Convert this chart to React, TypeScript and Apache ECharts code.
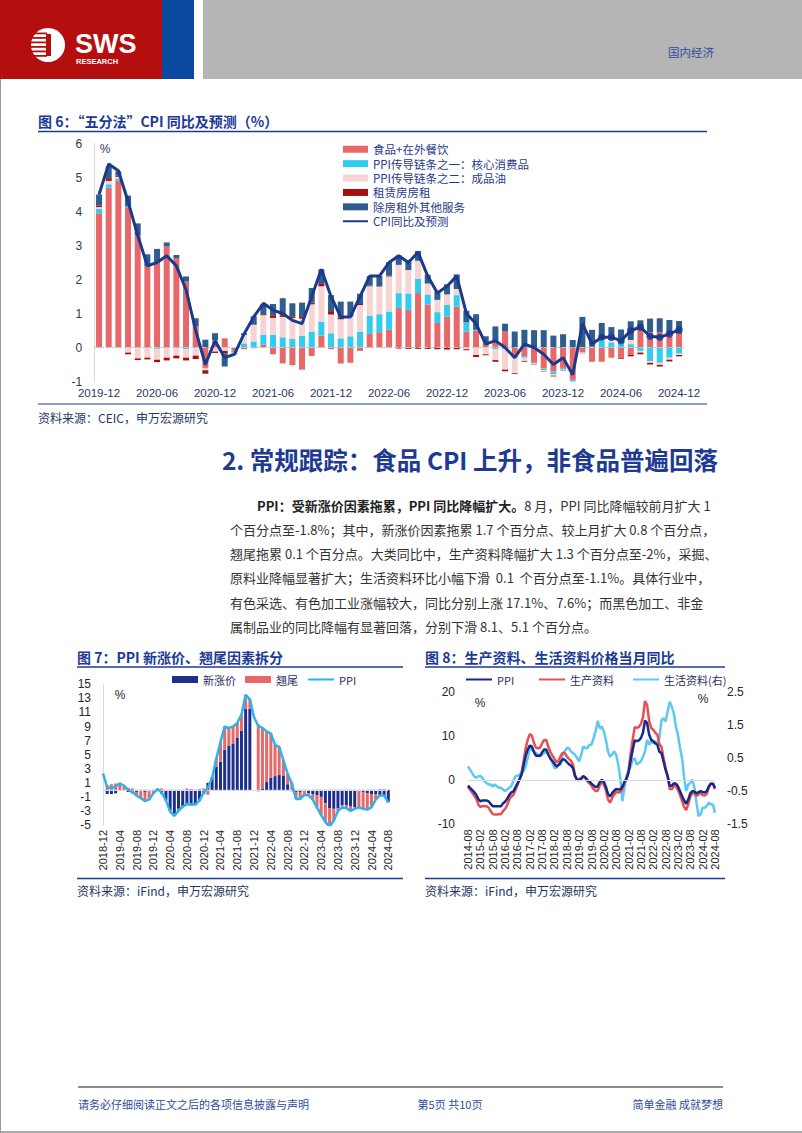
import React, { useEffect, useRef } from 'react';
import * as echarts from 'echarts';

const months = (y0: number, m0: number, n: number): string[] => {
  const out: string[] = [];
  let y = y0, m = m0;
  for (let i = 0; i < n; i++) {
    out.push(`${y}-${String(m).padStart(2, '0')}`);
    m++;
    if (m > 12) { m = 1; y++; }
  }
  return out;
};

// ---------- Figure 6 ----------
const cats6 = months(2019, 12, 61);
const food6 = [3.95,4.7,4.9,4.1,3.3,2.38,2.48,2.97,2.62,1.94,
  0.62,-0.6,0.2,0.27,-0.1,-0.05,-0.02,0.08,-0.2,-0.47,
  -0.52,-0.65,-0.25,0.35,-0.05,-0.47,-0.45,-0.1,0.4,0.45,
  0.52,1.16,1.1,1.6,1.27,0.72,0.91,1.2,0.47,0.5,
  0.15,0.18,0.47,-0.28,-0.25,-0.45,-0.62,-0.7,-0.6,-0.95,
  -0.15,-0.42,-0.42,-0.3,-0.3,-0.22,0.5,0.45,0.45,0.42,0.4];
const core6 = [0.13,0.1,0.07,0.05,-0.02,-0.02,-0.04,-0.02,-0.02,-0.05,
  -0.02,-0.02,0.02,0,-0.05,0.12,0.18,0.3,0.37,0.3,
  0.25,0.35,0.47,0.4,0.42,0.27,0.33,0.47,0.54,0.53,
  0.54,0.44,0.49,0.42,0.29,0.32,0.34,0.34,0.27,0.02,
  0.01,-0.05,-0.05,-0.02,-0.05,-0.02,-0.05,-0.08,-0.05,-0.05,
  0,0,0.2,0.15,0.13,0.1,-0.1,-0.4,-0.45,-0.3,-0.18];
const oil6 = [0.05,0.1,0.05,-0.15,-0.3,-0.28,-0.32,-0.28,-0.22,-0.25,
  -0.22,-0.05,-0.12,-0.1,-0.03,0.25,0.49,0.57,0.5,0.6,
  0.62,0.5,0.8,1.05,0.55,0.56,0.58,0.78,0.86,0.81,
  1.03,0.83,0.69,0.53,0.32,0.36,0.31,0.18,-0.05,-0.22,
  -0.2,-0.32,-0.6,-0.45,-0.1,-0.03,-0.03,-0.05,-0.03,-0.01,
  -0.05,0.02,0.04,0.07,0,0.12,-0.05,-0.05,-0.06,-0.06,-0.04];
const rent6 = [0.05,0.08,0.04,-0.05,-0.05,-0.05,-0.07,-0.08,-0.08,-0.08,
  -0.1,-0.1,-0.04,-0.08,-0.02,0,0,0.03,0.08,0.05,
  0.05,0.07,0.05,0.07,0.1,0.05,0,0.03,0.02,0.01,
  0.02,-0.03,-0.04,-0.04,-0.04,-0.05,-0.06,-0.05,-0.03,-0.06,
  -0.03,-0.05,-0.05,-0.02,-0.02,-0.01,-0.01,-0.02,-0.01,-0.01,
  0,0,0,0,-0.03,-0.04,-0.05,-0.05,-0.05,-0.05,-0.04];
const serv6 = [0.32,0.35,0.12,0.32,0.35,0.36,0.42,0.12,0.1,0.15,
  0.24,0.23,0.2,-0.38,0,0.05,0.25,0.3,0.33,0.5,
  0.38,0.4,0.43,0.43,0.47,0.47,0.44,0.3,0.28,0.3,
  0.4,0.28,0.24,0.29,0.26,0.25,0.3,0.43,0.34,0.46,
  0.17,0.44,0.23,0.47,0.52,0.51,0.51,0.35,0.39,0.22,
  0.9,0.5,0.48,0.38,0.4,0.55,0.3,0.4,0.41,0.39,0.38];
const cpi6 = [4.5,5.4,5.2,4.3,3.3,2.4,2.5,2.7,2.4,1.7,
  0.5,-0.5,0.2,-0.3,-0.2,0.4,0.9,1.3,1.1,1.0,
  0.8,0.7,1.5,2.3,1.5,0.9,0.9,1.5,2.1,2.1,
  2.5,2.7,2.5,2.8,2.1,1.6,1.8,2.1,1.0,0.7,
  0.1,0.2,0.0,-0.3,0.1,0.0,-0.2,-0.5,-0.3,-0.8,
  0.7,0.1,0.3,0.3,0.2,0.5,0.6,0.33,0.3,0.4,0.52];
const markerFrom6 = 52;

// ---------- Figure 7 ----------
const cats7 = months(2018, 12, 69);
const new7 = [null,
  -0.6,-0.6,-0.5,-0.1,0.0,-0.3,-0.5,-0.3,-0.2,-0.3,-0.2,-0.1,
  -0.1,-0.6,-1.5,-2.9,-3.4,-2.7,-2.3,-2.2,-2.2,-2.1,-1.6,-0.6,
  1.0,1.8,3.3,4.0,5.7,6.3,6.6,7.4,8.4,11.5,11.5,null,
  -0.2,0.2,1.1,1.7,1.95,2.1,2.05,0.8,-0.2,-0.3,-0.3,-0.1,
  -0.5,-0.6,-0.8,-1.0,-1.9,-2.6,-2.7,-2.6,-2.2,-2.2,-2.3,-2.5,
  -0.2,-0.3,-0.5,-0.6,-0.6,-0.9,-0.9,-1.7];
const carry7 = [null,
  0.7,0.8,0.9,1.0,0.6,0.3,0.2,-0.5,-1.0,-1.3,-1.2,-0.4,
  0.2,0.2,0.0,-0.2,-0.3,-0.3,-0.1,0.2,0.1,0.0,0.1,0.2,
  -0.7,-0.1,1.1,2.8,3.3,2.5,2.4,2.1,2.3,2.0,1.4,null,
  9.3,8.6,7.2,6.3,4.45,4.0,2.15,1.5,1.1,-1.0,-1.0,-0.6,
  -0.3,-0.8,-1.7,-2.6,-2.7,-2.8,-1.7,-0.4,-0.3,-0.4,-0.7,-0.2,
  -2.3,-2.4,-2.3,-1.9,-0.8,0.1,0.1,-0.1];
const ppi7 = [2.3,
  0.4,0.2,0.5,0.9,0.6,0.0,-0.3,-0.8,-1.2,-1.6,-1.4,-0.5,
  0.1,-0.4,-1.5,-3.1,-3.7,-3.0,-2.4,-2.0,-2.1,-2.1,-1.5,-0.4,
  0.3,1.7,4.4,6.8,9.0,8.8,9.0,9.5,10.7,13.5,12.9,10.3,
  9.1,8.8,8.3,8.0,6.4,6.1,4.2,2.3,0.9,-1.3,-1.3,-0.7,
  -0.8,-1.4,-2.5,-3.6,-4.6,-5.2,-4.4,-3.0,-2.5,-2.6,-3.0,-2.7,
  -2.5,-2.7,-2.8,-2.5,-1.4,-0.8,-0.8,-1.8];

// ---------- Figure 8 ----------
const cats8 = months(2014, 8, 121);
const ppi8 = [-1.2,-1.8,-2.2,-2.7,-3.3,
  -4.3,-4.8,-4.6,-4.6,-4.6,-4.8,-5.4,-5.9,-5.9,-5.9,-5.9,-5.9,
  -5.3,-4.9,-4.3,-3.4,-2.8,-2.6,-1.7,-0.8,0.1,1.2,3.3,5.5,
  6.9,7.8,7.6,6.4,5.5,5.5,5.5,6.3,6.9,6.9,5.8,4.9,
  4.3,3.7,3.1,3.4,4.1,4.7,4.6,4.1,3.6,3.3,2.7,0.9,
  0.1,0.1,0.4,0.9,0.6,0.0,-0.3,-0.8,-1.2,-1.6,-1.4,-0.5,
  0.1,-0.4,-1.5,-3.1,-3.7,-3.0,-2.4,-2.0,-2.1,-2.1,-1.5,-0.4,
  0.3,1.7,4.4,6.8,9.0,8.8,9.0,9.5,10.7,13.5,12.9,10.3,
  9.1,8.8,8.3,8.0,6.4,6.1,4.2,2.3,0.9,-1.3,-1.3,-0.7,
  -0.8,-1.4,-2.5,-3.6,-4.6,-5.4,-4.4,-3.0,-2.5,-2.6,-3.0,-2.7,
  -2.5,-2.7,-2.8,-2.5,-1.4,-0.8,-0.8,-1.8];
const prod8 = [-1.5,-2.2,-2.8,-3.5,-4.2,
  -5.5,-6.1,-5.9,-5.9,-5.9,-6.2,-7.0,-7.7,-7.8,-7.8,-7.7,-7.7,
  -7.0,-6.5,-5.7,-4.5,-3.7,-3.4,-2.3,-1.1,0.1,1.6,4.3,7.2,
  9.1,10.4,10.1,8.5,7.3,7.2,7.3,8.3,9.1,9.1,7.6,6.4,
  5.6,4.8,4.0,4.4,5.4,6.2,6.1,5.4,4.8,4.4,3.5,1.1,
  0.0,0.0,0.3,0.8,0.5,-0.3,-0.7,-1.3,-2.0,-2.5,-2.4,-1.2,
  -0.4,-1.0,-2.3,-4.4,-5.1,-4.1,-3.3,-2.7,-2.8,-2.7,-2.0,-0.6,
  0.4,2.3,5.9,9.1,12.0,11.8,12.0,12.7,14.2,17.9,17.0,13.4,
  11.8,11.4,10.7,10.3,8.1,7.5,5.0,2.7,0.8,-2.0,-2.1,-1.3,
  -1.4,-2.2,-3.4,-4.7,-6.1,-6.8,-5.5,-3.7,-3.0,-3.0,-3.6,-3.2,
  -2.9,-3.4,-3.5,-3.1,-1.7,-0.8,-0.8,-2.0];
const cons8 = [0.25,0.15,0.05,-0.05,-0.1,
  -0.05,-0.04,-0.1,-0.2,-0.25,-0.3,-0.3,-0.36,-0.3,-0.35,-0.4,-0.4,
  -0.45,-0.5,-0.45,-0.4,-0.35,-0.2,-0.05,-0.04,0.0,0.05,0.1,0.25,
  0.5,0.8,0.75,0.7,0.65,0.6,0.55,0.6,0.65,0.7,0.6,0.5,
  0.35,0.2,0.2,0.3,0.3,0.6,0.7,0.8,0.8,0.7,0.65,0.6,
  0.5,0.4,0.6,0.85,0.8,0.8,0.9,0.9,1.1,1.3,1.62,1.4,
  1.45,1.3,1.05,0.7,0.54,0.6,0.7,0.6,0.3,-0.1,-0.8,-0.4,
  -0.06,0.1,0.24,0.45,0.49,0.3,0.35,0.4,0.54,0.7,1.05,0.9,
  1.0,0.95,1.0,0.95,1.1,1.65,1.7,1.6,1.9,2.2,2.05,1.85,
  1.45,1.2,0.8,0.5,-0.1,-0.5,-0.3,-0.25,-0.15,-0.4,-0.85,-1.25,
  -1.2,-1.0,-1.0,-0.95,-0.85,-0.9,-0.9,-1.15];

// ---------- Texts ----------
const paraLines = [
  '8 月，PPI 同比降幅较前月扩大 1',
  '个百分点至-1.8%；其中，新涨价因素拖累 1.7 个百分点、较上月扩大 0.8 个百分点，',
  '翘尾拖累 0.1 个百分点。大类同比中，生产资料降幅扩大 1.3 个百分点至-2%，采掘、',
  '原料业降幅显著扩大；生活资料环比小幅下滑  0.1  个百分点至-1.1%。具体行业中，',
  '有色采选、有色加工业涨幅较大，同比分别上涨 17.1%、7.6%；而黑色加工、非金',
  '属制品业的同比降幅有显著回落，分别下滑 8.1、5.1 个百分点。',
];
const paraBold = 'PPI：受新涨价因素拖累，PPI 同比降幅扩大。';

const FONT = "'Liberation Sans','Noto Sans CJK SC',sans-serif";
const CJK = "'Noto Sans CJK SC','Liberation Sans',sans-serif";
const TITLE_C = '#1C3A94';
const AX6 = '#1F3864';
const AXC = '#262626';
const RED_H = '#B50E0E';

const txt = (x: number, y: number, text: string, s: any = {}) => ({
  type: 'text', x, y, silent: true,
  style: { text, fontFamily: CJK, fontSize: 12, fill: '#333', align: 'left', verticalAlign: 'middle', ...s },
});
const hline = (x1: number, x2: number, y: number, stroke: string, lineWidth = 1) => ({
  type: 'line', silent: true, shape: { x1, y1: y, x2, y2: y }, style: { stroke, lineWidth },
});

const buildGraphic = () => {
  const els: any[] = [];
  // header
  els.push({ type: 'rect', shape: { x: 0, y: 0, width: 162, height: 79 }, style: { fill: RED_H } });
  els.push({ type: 'rect', shape: { x: 162, y: 0, width: 32, height: 79 }, style: { fill: '#0B49A0' } });
  els.push({ type: 'rect', shape: { x: 203, y: 0, width: 599, height: 79 }, style: { fill: '#B5B5B5' } });
  els.push({ type: 'circle', shape: { cx: 48, cy: 45, r: 17 }, style: { fill: '#fff' } });
  [32.5, 37, 41.5, 46, 50.5, 55].forEach((y) => {
    els.push({ type: 'rect', shape: { x: 30, y, width: 17, height: 1.8 }, style: { fill: RED_H } });
  });
  els.push({ type: 'rect', shape: { x: 46, y: 34, width: 5, height: 22 }, style: { fill: RED_H } });
  els.push(txt(75, 43.5, 'SWS', { fontFamily: "'Liberation Sans',sans-serif", fontSize: 27, fontWeight: 'bold', fill: '#fff' }));
  els.push(txt(76, 61, 'RESEARCH', { fontFamily: "'Liberation Sans',sans-serif", fontSize: 7.5, fontWeight: 'bold', fill: '#fff' }));
  els.push(txt(668, 52, '国内经济', { fontSize: 11.5, fill: '#2E4C9C' }));

  // figure 6
  els.push(txt(38, 121, '图 6：“五分法”CPI 同比及预测（%）', { fontSize: 14, fontWeight: 'bold', fill: TITLE_C }));
  els.push(hline(38, 707, 131.5, TITLE_C, 1.5));
  els.push(txt(105, 149, '%', { fontFamily: FONT, fontSize: 12, fill: AX6, align: 'center' }));
  els.push(hline(38, 707, 404, TITLE_C, 1));
  els.push(txt(38, 417, '资料来源：CEIC，申万宏源研究', { fontSize: 12, fill: AX6 }));

  // section heading & paragraph
  els.push(txt(718, 459.5, '2. 常规跟踪：食品 CPI 上升，非食品普遍回落', { fontSize: 24.5, fontWeight: 'bold', fill: '#1E3A93', align: 'right' }));
  const ys = [505, 529.3, 553.3, 577.5, 602, 626];
  els.push({
    type: 'text', x: 257, y: ys[0], silent: true,
    style: {
      text: `{b|${paraBold}}${paraLines[0]}`, fontFamily: CJK, fontSize: 13, fill: '#333', verticalAlign: 'middle',
      rich: { b: { fontFamily: CJK, fontSize: 13, fontWeight: 'bold', fill: '#222' } },
    },
  });
  for (let i = 1; i < paraLines.length; i++) {
    els.push(txt(230, ys[i], paraLines[i], { fontSize: 13, fill: '#333' }));
  }

  // figure 7
  els.push(txt(77, 657, '图 7：PPI 新涨价、翘尾因素拆分', { fontSize: 14, fontWeight: 'bold', fill: TITLE_C }));
  els.push(hline(77, 403, 667, TITLE_C, 1.5));
  els.push(txt(120, 695, '%', { fontFamily: FONT, fontSize: 12, fill: AXC, align: 'center' }));
  els.push(hline(77, 403, 878.5, TITLE_C, 1.5));
  els.push(txt(77, 890, '资料来源：iFind，申万宏源研究', { fontSize: 12, fill: AX6 }));

  // figure 8
  els.push(txt(425, 657, '图 8：生产资料、生活资料价格当月同比', { fontSize: 14, fontWeight: 'bold', fill: TITLE_C }));
  els.push(hline(425, 725, 667, TITLE_C, 1.5));
  els.push(txt(480, 703, '%', { fontFamily: FONT, fontSize: 12, fill: AXC, align: 'center' }));
  els.push(txt(703, 699, '%', { fontFamily: FONT, fontSize: 12, fill: AXC, align: 'center' }));
  els.push(hline(425, 725, 878.5, TITLE_C, 1.5));
  els.push(txt(425, 890, '资料来源：iFind，申万宏源研究', { fontSize: 12, fill: AX6 }));

  // footer
  els.push(hline(78, 723, 1087, '#8C8C8C', 2));
  els.push(txt(78, 1104, '请务必仔细阅读正文之后的各项信息披露与声明', { fontSize: 11, fill: '#2E4C9C' }));
  els.push(txt(450, 1104, '第5页 共10页', { fontSize: 11, fill: '#2E4C9C', align: 'center' }));
  els.push(txt(723, 1104, '简单金融 成就梦想', { fontSize: 11, fill: '#2E4C9C', align: 'right' }));
  els.push(hline(0, 802, 1132, '#8C8C8C', 1.5));
  els.push({ type: 'line', silent: true, shape: { x1: 0.5, y1: 79, x2: 0.5, y2: 1133 }, style: { stroke: '#9A9A9A', lineWidth: 1 } });
  return els;
};

const zeroLine = (color: string, type: string) => ({
  silent: true, symbol: ['none', 'none'], label: { show: false },
  lineStyle: { color, type, width: 1 }, data: [{ yAxis: 0 }], animation: false,
});

const hideSym = { opacity: 0 };
const oneLegend = (left: number, name: string, isLine: boolean) => ({
  orient: 'horizontal', left, top: 674, padding: 0, itemWidth: 26, itemHeight: 7,
  textStyle: { fontFamily: CJK, fontSize: 11, color: '#1F2F5F' },
  formatter: (n: string) => n.trim(),
  data: [isLine ? { name, itemStyle: hideSym } : { name, icon: 'rect' }],
});

const buildOption = () => {
  const barBase6 = { type: 'bar', stack: 'cpi', xAxisIndex: 0, yAxisIndex: 0, barWidth: 6 };
  const markers6 = cpi6.map((v, i) => (i >= markerFrom6 ? v : null));
  return {
    animation: false,
    backgroundColor: '#fff',
    textStyle: { fontFamily: FONT },
    graphic: { elements: buildGraphic() },
    grid: [
      { left: 94.2, top: 143.5, width: 589.7, height: 238, containLabel: false },
      { left: 103, top: 684.3, width: 285.3, height: 140.7, containLabel: false },
      { left: 468, top: 691.7, width: 247, height: 132.6, containLabel: false },
    ],
    legend: [
      {
        orient: 'vertical', left: 342, top: 143.5, padding: 0, itemWidth: 25, itemHeight: 7, itemGap: 2.9,
        textStyle: { fontFamily: CJK, fontSize: 11.5, lineHeight: 11.5, color: '#1F3A8C' },
        data: [
          { name: '食品+在外餐饮', icon: 'rect' },
          { name: 'PPI传导链条之一：核心消费品', icon: 'rect' },
          { name: 'PPI传导链条之二：成品油', icon: 'rect' },
          { name: '租赁房房租', icon: 'rect' },
          { name: '除房租外其他服务', icon: 'rect' },
          { name: 'CPI同比及预测', itemStyle: hideSym },
        ],
      },
      oneLegend(172, '新涨价', false),
      oneLegend(245, '翘尾', false),
      oneLegend(307, 'PPI', true),
      oneLegend(465, 'PPI ', true),
      oneLegend(538, '生产资料', true),
      oneLegend(632, '生活资料(右)', true),
    ],
    xAxis: [
      {
        type: 'category', gridIndex: 0, data: cats6, boundaryGap: true,
        axisLine: { show: false }, axisTick: { show: false },
        axisLabel: { interval: 5, fontSize: 11.5, color: AX6, margin: 6 },
      },
      {
        type: 'category', gridIndex: 1, data: cats7, boundaryGap: false,
        axisLine: { show: false }, axisTick: { show: false },
        axisLabel: { interval: 3, rotate: 90, fontSize: 11, color: AXC, margin: 5 },
      },
      {
        type: 'category', gridIndex: 2, data: cats8, boundaryGap: false,
        axisLine: { show: false }, axisTick: { show: false },
        axisLabel: { interval: 5, rotate: 90, fontSize: 11, color: AXC, margin: 5 },
      },
    ],
    yAxis: [
      {
        type: 'value', gridIndex: 0, min: -1, max: 6, interval: 1,
        axisLine: { show: true, lineStyle: { color: '#D9D9D9' } }, axisTick: { show: false },
        splitLine: { show: false }, axisLabel: { fontSize: 12, color: AX6, margin: 12 },
      },
      {
        type: 'value', gridIndex: 1, min: -5, max: 15, interval: 2,
        axisLine: { show: true, lineStyle: { color: '#D9D9D9' } }, axisTick: { show: false },
        splitLine: { show: false }, axisLabel: { fontSize: 12, color: AXC, margin: 12 },
      },
      {
        type: 'value', gridIndex: 2, min: -10, max: 20, interval: 10,
        axisLine: { show: false }, axisTick: { show: false },
        splitLine: { show: false }, axisLabel: { fontSize: 12, color: AXC, margin: 13 },
      },
      {
        type: 'value', gridIndex: 2, position: 'right', min: -1.5, max: 2.5, interval: 1,
        axisLine: { show: false }, axisTick: { show: false },
        splitLine: { show: false }, axisLabel: { fontSize: 12, color: AXC, margin: 12 },
      },
    ],
    series: [
      { ...barBase6, name: '食品+在外餐饮', data: food6, itemStyle: { color: '#E8686A' }, markLine: zeroLine('#C8C8C8', 'dashed') },
      { ...barBase6, name: 'PPI传导链条之一：核心消费品', data: core6, itemStyle: { color: '#33CCF0' } },
      { ...barBase6, name: 'PPI传导链条之二：成品油', data: oil6, itemStyle: { color: '#F8D3D3' } },
      { ...barBase6, name: '租赁房房租', data: rent6, itemStyle: { color: '#A50F0F' } },
      { ...barBase6, name: '除房租外其他服务', data: serv6, itemStyle: { color: '#2F5E8E' } },
      {
        type: 'line', name: 'CPI同比及预测', xAxisIndex: 0, yAxisIndex: 0, data: cpi6, symbol: 'none', z: 5,
        lineStyle: { color: '#1B3A8C', width: 3 }, itemStyle: { color: '#1B3A8C' },
      },
      {
        type: 'scatter', name: 'CPI预测点', xAxisIndex: 0, yAxisIndex: 0, data: markers6, symbol: 'circle',
        symbolSize: 7.5, z: 6, itemStyle: { color: '#1B3A8C' },
      },

      {
        type: 'bar', name: '新涨价', stack: 'ppi', xAxisIndex: 1, yAxisIndex: 1, data: new7, barWidth: 3,
        itemStyle: { color: '#1C2F8C' }, markLine: zeroLine('#D9D9D9', 'solid'),
      },
      { type: 'bar', name: '翘尾', stack: 'ppi', xAxisIndex: 1, yAxisIndex: 1, data: carry7, barWidth: 3, itemStyle: { color: '#E8686A' } },
      {
        type: 'line', name: 'PPI', xAxisIndex: 1, yAxisIndex: 1, data: ppi7, symbol: 'none', z: 5,
        lineStyle: { color: '#2DB3E8', width: 2.5 }, itemStyle: { color: '#2DB3E8' },
      },

      {
        type: 'line', name: 'PPI ', xAxisIndex: 2, yAxisIndex: 2, data: ppi8, symbol: 'none', z: 4,
        lineStyle: { color: '#17298A', width: 2.5 }, itemStyle: { color: '#17298A' },
        markLine: zeroLine('#D9D9D9', 'solid'),
      },
      {
        type: 'line', name: '生产资料', xAxisIndex: 2, yAxisIndex: 2, data: prod8, symbol: 'none', z: 3,
        lineStyle: { color: '#E8504F', width: 2.5 }, itemStyle: { color: '#E8504F' },
      },
      {
        type: 'line', name: '生活资料(右)', xAxisIndex: 2, yAxisIndex: 3, data: cons8, symbol: 'none', z: 2,
        lineStyle: { color: '#5EC8F2', width: 2.5 }, itemStyle: { color: '#5EC8F2' },
      },
    ],
  };
};

export default function App() {
  const ref = useRef<HTMLDivElement>(null);
  useEffect(() => {
    if (!ref.current) return;
    const chart = echarts.init(ref.current, null, { renderer: 'svg' });
    chart.setOption(buildOption() as any);
    return () => chart.dispose();
  }, []);
  return (
    <div
      ref={ref}
      style={{ position: 'absolute', left: 0, top: 0, width: 802, height: 1133, background: '#fff' }}
    />
  );
}
